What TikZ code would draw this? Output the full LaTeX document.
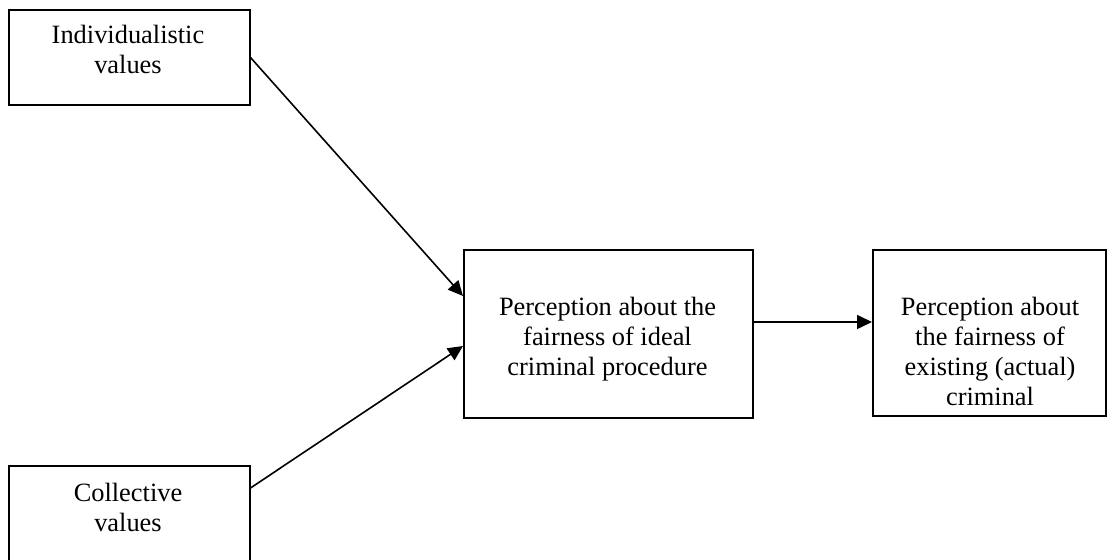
\documentclass[tikz,border=0pt]{standalone}
\usepackage{fontspec}
\setmainfont{Liberation Serif}
\usetikzlibrary{arrows.meta}
\begin{document}
\begin{tikzpicture}[x=0.5pt,y=-0.5pt,
  box/.style={draw,line width=1pt,rectangle,inner sep=0pt,anchor=north west},
  lbl/.style={align=center,inner sep=0pt,anchor=north,font=\fontsize{13.2}{15}\selectfont},
  arr/.style={line width=0.8pt,-{Triangle[length=7.5pt,width=7pt]}}]
\useasboundingbox (0,0) rectangle (1107,560);
\clip (0,0) rectangle (1107,560);
\node[box,minimum width=120.5pt,minimum height=47.5pt] (b1) at (7.5,9) {};
\node[box,minimum width=120.5pt,minimum height=57.5pt] (b2) at (7.5,465) {};
\node[box,minimum width=144.5pt,minimum height=84pt] (m) at (463,249) {};
\node[box,minimum width=116.5pt,minimum height=83pt] (r) at (872,249) {};
\node[lbl] (t1) at (128,25) {Individualistic\\values};
\node[lbl] (t2) at (128,483) {Collective\\values};
\node[lbl] (t3) at (607.5,297) {Perception about the\\fairness of ideal\\criminal procedure};
\node[lbl] (t4) at (990,297) {Perception about\\the fairness of\\existing (actual)\\criminal};
\draw[arr] (b1.east) -- ([yshift=19pt]m.west);
\draw[arr] ([yshift=-11.5pt]b2.north east) -- ([yshift=-6pt]m.west);
\draw[arr] ([yshift=6pt]m.east) -- ([yshift=6pt]m.east -| r.west);
\end{tikzpicture}
\end{document}
